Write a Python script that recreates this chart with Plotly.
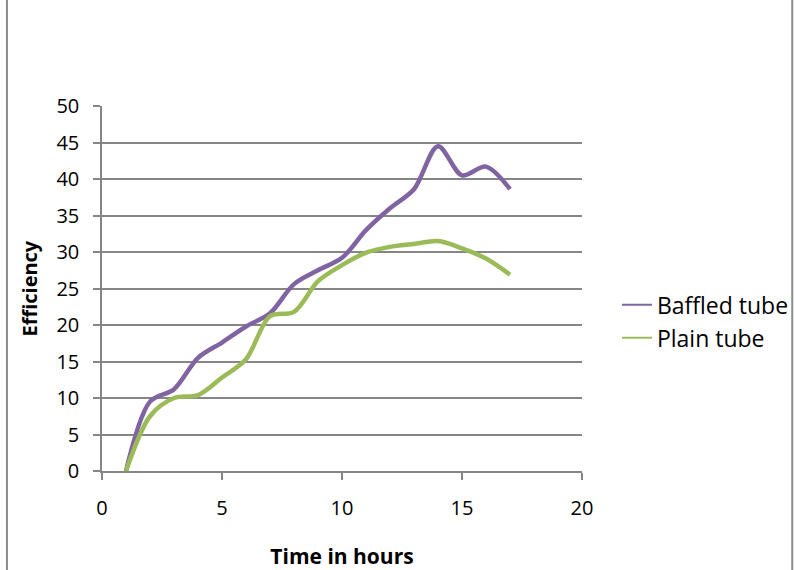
import plotly.graph_objects as go

# Efficiency over time for the two tube designs
hours = list(range(1, 18))
baffled = [0, 9.5, 11.2, 15.5, 17.6, 19.8, 21.6, 25.6, 27.5, 29.2, 33.0, 36.0, 38.6, 44.5, 40.5, 41.7, 38.6]
plain = [0, 7.5, 10.0, 10.4, 12.8, 15.3, 21.2, 21.8, 26.0, 28.2, 29.9, 30.7, 31.1, 31.5, 30.5, 29.1, 26.9]

x_ticks = [0, 5, 10, 15, 20]
y_ticks = [0, 5, 10, 15, 20, 25, 30, 35, 40, 45, 50]

purple = "#8064A2"
green = "#9BBB59"
grid = "#868686"
font_family = "'Open Sans', Lato, sans-serif"

fig = go.Figure()

for name, vals, color in [("Baffled tube", baffled, purple), ("Plain tube", plain, green)]:
    fig.add_trace(go.Scatter(
        x=hours, y=vals, mode="lines", name=name,
        line=dict(color=color, width=4.5, shape="spline", smoothing=0.9),
        showlegend=False,
    ))

# thin legend samples
for name, color in [("Baffled tube", purple), ("Plain tube", green)]:
    fig.add_trace(go.Scatter(
        x=[None], y=[None], mode="lines", name=name,
        line=dict(color=color, width=2),
    ))

fig.update_layout(
    width=795, height=570,
    margin=dict(l=102, r=213, t=106, b=99, autoexpand=False),
    paper_bgcolor="white", plot_bgcolor="white",
    font=dict(family=font_family, size=20, color="#000000"),
    showlegend=True,
    legend=dict(
        xref="container", yref="container",
        x=0.776, y=0.503, xanchor="left", yanchor="top",
        font=dict(size=23, family=font_family),
        bgcolor="rgba(0,0,0,0)", itemwidth=30, tracegroupgap=0,
    ),
    xaxis=dict(
        range=[0, 20], tickvals=x_ticks, ticktext=[str(v) for v in x_ticks],
        showgrid=False, zeroline=False, automargin=False,
        showline=True, linecolor=grid, linewidth=1.5,
        ticks="outside", ticklen=7, tickcolor=grid, tickwidth=1.5,
        ticklabelstandoff=11,
        title=dict(text="<b>Time in hours</b>", font=dict(size=21), standoff=31),
    ),
    yaxis=dict(
        range=[0, 50], tickvals=y_ticks, ticktext=[str(v) for v in y_ticks],
        showgrid=True, gridcolor=grid, gridwidth=1.5, zeroline=False, automargin=False,
        showline=True, linecolor=grid, linewidth=1.5,
        ticks="outside", ticklen=7, tickcolor=grid, tickwidth=1.5,
        ticklabelstandoff=10,
    ),
    annotations=[dict(
        text="<b>Efficiency</b>", textangle=-90, showarrow=False,
        xref="paper", yref="paper", x=-0.152, y=0.5,
        xanchor="center", yanchor="middle", font=dict(size=20),
    )],
    shapes=[dict(
        type="rect", xref="paper", yref="paper",
        x0=-0.198, x1=1.438, y0=-0.4, y1=1.329,
        line=dict(color="#8c8c8c", width=2), fillcolor="rgba(0,0,0,0)", layer="below",
    )],
)

fig.write_html("out.html")
